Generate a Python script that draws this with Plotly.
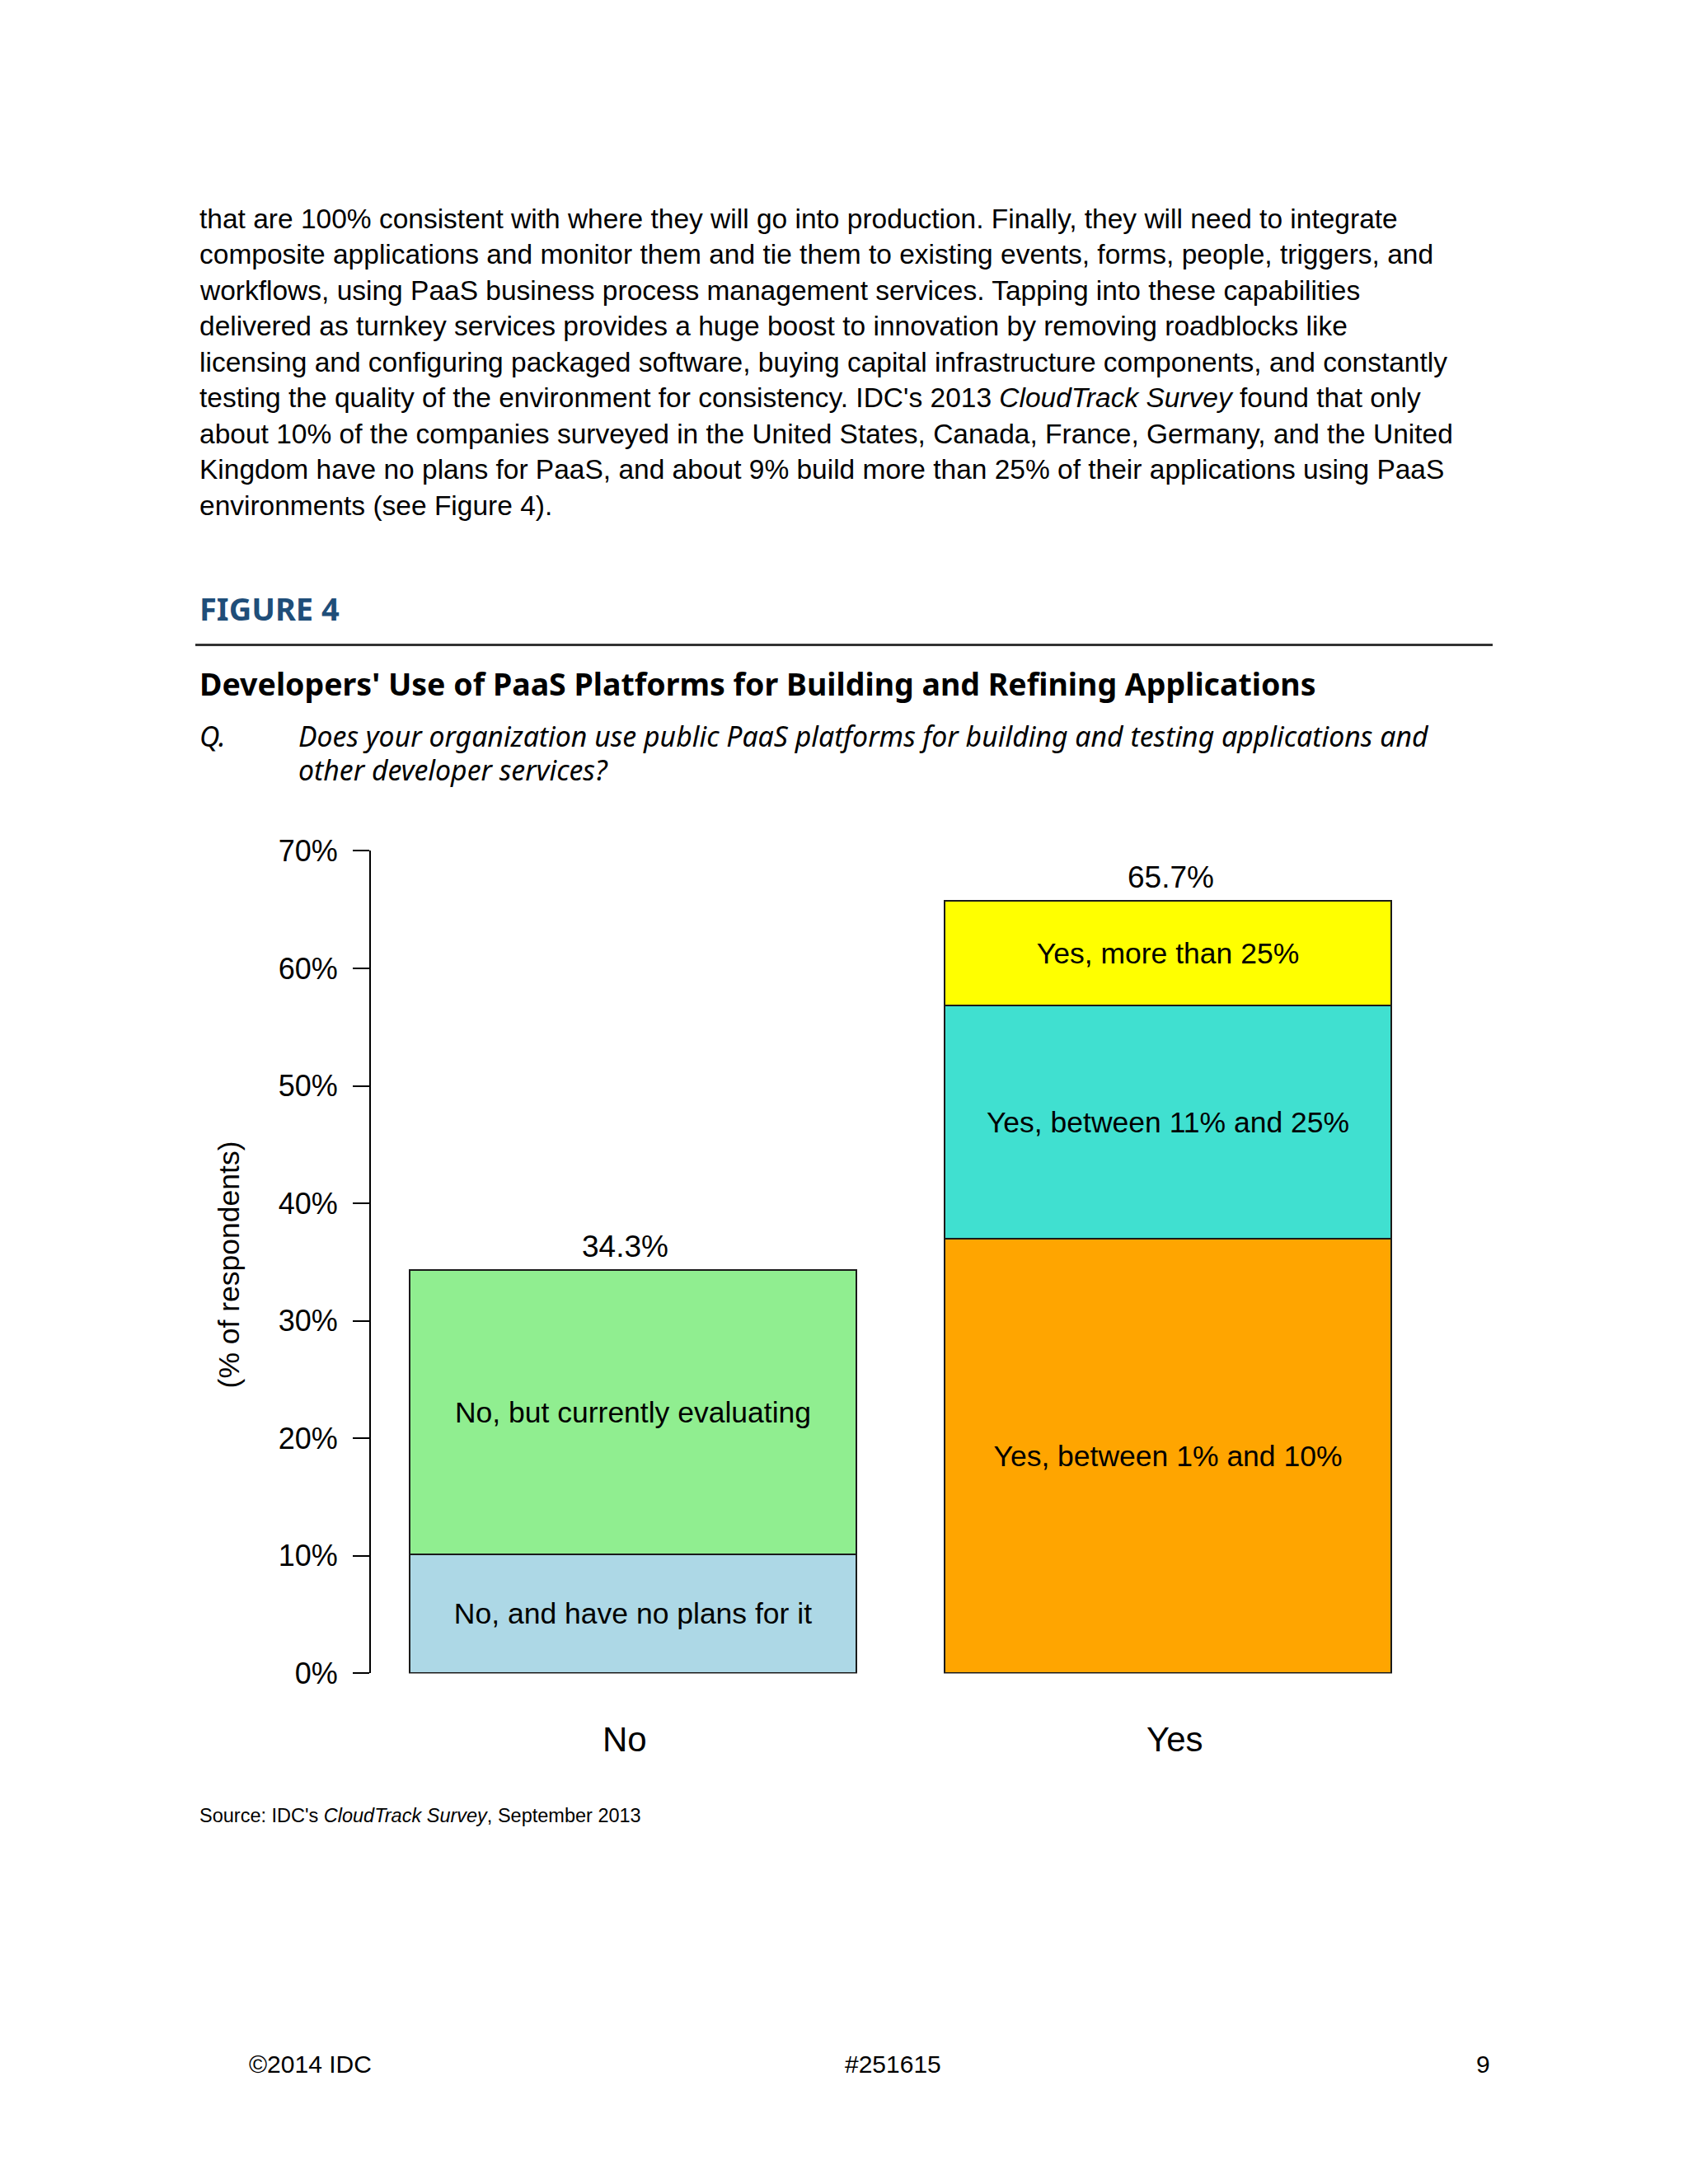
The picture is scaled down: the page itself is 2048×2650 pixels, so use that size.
import plotly.graph_objects as go

W, H = 2048, 2650

# ---- data ----
categories = ["No", "Yes"]
no_labels = ["No, and have no plans for it", "No, but currently evaluating"]
no_values = [10.1, 24.2]
no_colors = ["#ADD8E6", "#90EE90"]
yes_labels = ["Yes, between 1% and 10%", "Yes, between 11% and 25%", "Yes, more than 25%"]
yes_values = [37.0, 19.8, 8.9]
yes_colors = ["#FFA500", "#40E0D0", "#FFFF00"]
totals = [34.3, 65.7]
y_ticks = [0, 10, 20, 30, 40, 50, 60, 70]
y_tick_labels = ["0%", "10%", "20%", "30%", "40%", "50%", "60%", "70%"]

body_lines = [
    "that are 100% consistent with where they will go into production. Finally, they will need to integrate",
    "composite applications and monitor them and tie them to existing events, forms, people, triggers, and",
    "workflows, using PaaS business process management services. Tapping into these capabilities",
    "delivered as turnkey services provides a huge boost to innovation by removing roadblocks like",
    "licensing and configuring packaged software, buying capital infrastructure components, and constantly",
    "testing the quality of the environment for consistency. IDC's 2013 <i>CloudTrack Survey</i> found that only",
    "about 10% of the companies surveyed in the United States, Canada, France, Germany, and the United",
    "Kingdom have no plans for PaaS, and about 9% build more than 25% of their applications using PaaS",
    "environments (see Figure 4).",
]

def px(x):
    return x / W

# vertical calibration of page positions
def py(y):
    return 1 - ((y - 18.6) / 0.9845) / H

BAR_W = 0.835
ARIAL = "Liberation Sans, Arial, sans-serif"
HEAD = "Noto Sans, DejaVu Sans, sans-serif"

fig = go.Figure()
for lab, val, col in zip(no_labels, no_values, no_colors):
    fig.add_trace(go.Bar(
        x=[categories[0]], y=[val], name=lab, width=BAR_W,
        marker=dict(color=col, line=dict(color="#1a1a1a", width=2)),
        text=[lab], textposition="inside", insidetextanchor="middle",
        textangle=0, textfont=dict(family=ARIAL, size=35.5, color="black"),
        hoverinfo="skip", showlegend=False,
    ))
for lab, val, col in zip(yes_labels, yes_values, yes_colors):
    fig.add_trace(go.Bar(
        x=[categories[1]], y=[val], name=lab, width=BAR_W,
        marker=dict(color=col, line=dict(color="#1a1a1a", width=2)),
        text=[lab], textposition="inside", insidetextanchor="middle",
        textangle=0, textfont=dict(family=ARIAL, size=35.5, color="black"),
        hoverinfo="skip", showlegend=False,
    ))

annotations = []
# totals above bars
for c, t, xs in zip(categories, totals, [-10, 3]):
    annotations.append(dict(x=c, y=t, xref="x", yref="y", text=f"{t:.1f}%",
                            showarrow=False, yshift=29, xshift=xs, yanchor="middle",
                            font=dict(family=ARIAL, size=37, color="black")))
# category labels under the bars
for c, xs in zip(categories, [-10, 8]):
    annotations.append(dict(x=c, y=0, xref="x", yref="y", text=c,
                            showarrow=False, yshift=-80, xshift=xs, yanchor="middle",
                            font=dict(family=ARIAL, size=42, color="black")))
# y axis title
annotations.append(dict(x=px(278), y=py(1533), xref="paper", yref="paper",
                        text="(% of respondents)", textangle=-90, showarrow=False,
                        xanchor="center", yanchor="middle",
                        font=dict(family=ARIAL, size=35.5, color="black")))
# body text
for i, line in enumerate(body_lines):
    annotations.append(dict(x=px(240), y=py(264 + i * 43.5), xref="paper", yref="paper",
                            text=line, showarrow=False, xanchor="left", yanchor="middle",
                            font=dict(family=ARIAL, size=33.5, color="black")))
# heading
annotations.append(dict(x=px(240), y=py(737), xref="paper", yref="paper",
                        text="<b>FIGURE 4</b>", showarrow=False, xanchor="left", yanchor="middle",
                        font=dict(family=HEAD, size=38, color="#1F4E79")))
annotations.append(dict(x=px(240), y=py(828), xref="paper", yref="paper",
                        text="<b>Developers' Use of PaaS Platforms for Building and Refining Applications</b>",
                        showarrow=False, xanchor="left", yanchor="middle",
                        font=dict(family=HEAD, size=37.5, color="black")))
annotations.append(dict(x=px(240), y=py(892), xref="paper", yref="paper",
                        text="<i>Q.</i>", showarrow=False, xanchor="left", yanchor="middle",
                        font=dict(family=HEAD, size=33.8, color="black")))
annotations.append(dict(x=px(360), y=py(892), xref="paper", yref="paper",
                        text="<i>Does your organization use public PaaS platforms for building and testing applications and</i>",
                        showarrow=False, xanchor="left", yanchor="middle",
                        font=dict(family=HEAD, size=33.8, color="black")))
annotations.append(dict(x=px(360), y=py(933), xref="paper", yref="paper",
                        text="<i>other developer services?</i>",
                        showarrow=False, xanchor="left", yanchor="middle",
                        font=dict(family=HEAD, size=33.8, color="black")))
# source
annotations.append(dict(x=px(240), y=py(2202), xref="paper", yref="paper",
                        text="Source: IDC's <i>CloudTrack Survey</i>, September 2013",
                        showarrow=False, xanchor="left", yanchor="middle",
                        font=dict(family=ARIAL, size=23.5, color="black")))
# footer
annotations.append(dict(x=px(300), y=py(2503), xref="paper", yref="paper", text="©2014 IDC",
                        showarrow=False, xanchor="left", yanchor="middle",
                        font=dict(family=ARIAL, size=30, color="black")))
annotations.append(dict(x=px(1083), y=py(2503), xref="paper", yref="paper", text="#251615",
                        showarrow=False, xanchor="center", yanchor="middle",
                        font=dict(family=ARIAL, size=30, color="black")))
annotations.append(dict(x=px(1810), y=py(2503), xref="paper", yref="paper", text="9",
                        showarrow=False, xanchor="right", yanchor="middle",
                        font=dict(family=ARIAL, size=30, color="black")))

x0_pix, x1_pix = 450, 1750
c0_pix, step_pix = 768, 649
fig.update_layout(
    width=W, height=H, autosize=False,
    margin=dict(l=0, r=0, t=0, b=0, pad=0),
    paper_bgcolor="white", plot_bgcolor="white",
    barmode="stack", bargap=0,
    uniformtext=dict(minsize=34, mode="show"),
    xaxis=dict(domain=[px(x0_pix), px(x1_pix)],
               range=[(x0_pix - c0_pix) / step_pix, (x1_pix - c0_pix) / step_pix],
               type="category", showline=False, showgrid=False, zeroline=False,
               showticklabels=False, ticks=""),
    yaxis=dict(domain=[py(2029), py(1031)], range=[0, 70],
               tickvals=y_ticks, ticktext=y_tick_labels,
               showline=True, linecolor="black", linewidth=2,
               ticks="outside", ticklen=20, tickwidth=2, tickcolor="black",
               ticklabelstandoff=11,
               showgrid=False, zeroline=False,
               tickfont=dict(family=ARIAL, size=36, color="black")),
    annotations=annotations,
    shapes=[dict(type="line", xref="paper", yref="paper",
                 x0=px(237), x1=px(1811), y0=py(781), y1=py(781),
                 line=dict(color="#333333", width=3))],
)

fig.write_html(
    "out.html",
    config={"displayModeBar": False},
    post_script=(
        "document.documentElement.style.margin='0';"
        "document.body.style.margin='0';document.body.style.padding='0';"
        "var d=document.getElementById('{plot_id}');"
        "d.style.position='fixed';d.style.top='0px';d.style.left='0px';"
        "document.documentElement.style.overflow='hidden';"
    ),
)
